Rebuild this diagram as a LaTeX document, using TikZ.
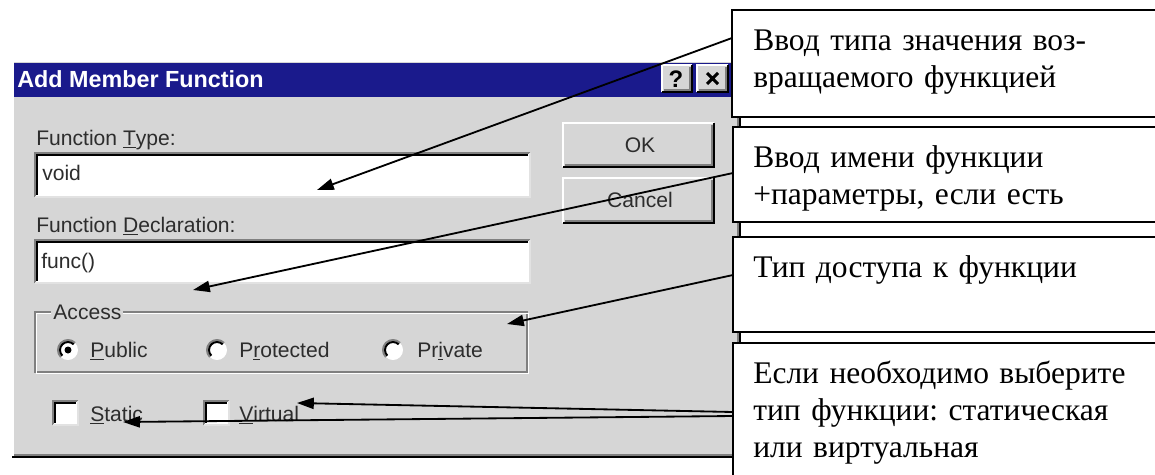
\documentclass[tikz,border=0pt]{standalone}
\usepackage{fontspec}
\setmainfont{Liberation Serif}
\newfontfamily\dlgfont{Liberation Sans}
\usepackage{tikz}
\usetikzlibrary{positioning, calc, arrows.meta}
\frenchspacing

\definecolor{dlgface}{RGB}{214,214,214}
\definecolor{dlgshade}{RGB}{128,128,128}
\definecolor{dlgtitle}{RGB}{26,26,140}
\definecolor{dlgtext}{RGB}{45,45,45}

% raised button: x1,y1 (top left), x2,y2 (bottom right)
\newcommand{\winraised}[4]{%
	\fill[dlgface] (#1,#2) rectangle (#3,#4);
	\draw[white, line width=1.4] (#1,#4) -- (#1,#2) -- (#3,#2);
	\draw[black, line width=1.4] (#1,#4) -- (#3,#4) -- (#3,#2);
	\draw[dlgshade, line width=1.4] (#1+2,#4-2) -- (#3-2,#4-2) -- (#3-2,#2+2);}
% sunken field
\newcommand{\winsunken}[4]{%
	\fill[white] (#1,#2) rectangle (#3,#4);
	\draw[dlgshade, line width=1.4] (#1,#4) -- (#1,#2) -- (#3,#2);
	\draw[black, line width=1.4] (#1+2,#4-2) -- (#1+2,#2+2) -- (#3-2,#2+2);
	\draw[dlgface!70!white, line width=1.4] (#1,#4) -- (#3,#4) -- (#3,#2);}
% radio button: centre x,y
\newcommand{\winradio}[2]{%
	\fill[white] (#1,#2) circle[radius=10];
	\draw[dlgshade, line width=1.4] (#1,#2) ++(135:10) arc[start angle=135, end angle=315, radius=10];
	\draw[black, line width=1.4] (#1,#2) ++(135:8) arc[start angle=135, end angle=315, radius=8];}

\begin{document}
\begin{tikzpicture}[x=0.025cm, y=-0.025cm,
	dlglabel/.style={font=\dlgfont\fontsize{15}{18}\selectfont, text=dlgtext, inner sep=0pt, anchor=base west},
	dlgbutton/.style={font=\dlgfont\fontsize{15}{18}\selectfont, text=dlgtext, inner sep=0pt},
	callout/.style={draw, line width=1.3pt, fill=white, anchor=north west, outer sep=0pt, minimum width=11cm},
	note/.style={font=\fontsize{22.4}{26.5}\selectfont, inner sep=0pt, anchor=base west, align=left, text width=10cm},
	pointer/.style={line width=1.3pt, -{Triangle[length=0.42cm, width=0.28cm]}}]
	\useasboundingbox (0,0) rectangle (1155,474);
	\clip (0,0) rectangle (1155,474);
	\fill[white] (0,0) rectangle (1155,474);

	% dialog frame and title bar
	\fill[dlgface] (12,60) rectangle (740,457);
	\draw[white, line width=1.4] (13,456) -- (13,61) -- (739,61);
	\draw[dlgshade, line width=1.4] (14,455) -- (738,455) -- (738,62);
	\draw[black, line width=1.4] (12,457) -- (740,457) -- (740,60);
	\fill[dlgtitle] (14,63) rectangle (735,97);
	\node[font=\dlgfont\bfseries\fontsize{16.6}{20}\selectfont, text=white, inner sep=0pt, anchor=base west] (title) at (17,87) {Add Member Function};
	\winraised{662}{65}{692}{92}
	\node[font=\dlgfont\bfseries\fontsize{17}{20}\selectfont, inner sep=0pt] (helpq) at (676,79) {?};
	\winraised{697}{65}{728}{92}
	\draw[black, line width=2.2] (707,73) -- (718,84) (718,73) -- (707,84);

	% fields
	\node[dlglabel] (typelbl) at (36,145) {Function \underline{T}ype:};
	\winsunken{35}{153}{530}{197}
	\node[dlglabel] (typeval) at (42,180) {void};
	\node[dlglabel] (decllbl) at (36,232) {Function \underline{D}eclaration:};
	\winsunken{35}{240}{530}{283}
	\node[dlglabel] (declval) at (41,268) {func()};

	% access group
	\draw[dlgshade, line width=1.2] (35,312) rectangle (527,372);
	\draw[white, line width=1.2] (36.5,313.5) rectangle (528.5,373.5);
	\node[dlglabel, fill=dlgface, inner xsep=1.5pt] (access) at (51,319) {Access};
	\winradio{68}{350}
	\fill[black] (68,350) circle[radius=3.5];
	\node[dlglabel] (public) at (90,357) {\underline{P}ublic};
	\winradio{217}{350}
	\node[dlglabel] (protect) at (239,357) {P\underline{r}otected};
	\winradio{393}{350}
	\node[dlglabel] (private) at (417,357) {Pr\underline{i}vate};

	% check boxes
	\winsunken{53}{401}{78}{425}
	\node[dlglabel] (static) at (90,421) {\underline{S}tatic};
	\winsunken{204}{401}{229}{425}
	\node[dlglabel] (virtual) at (239,421) {\underline{V}irtual};

	% buttons
	\winraised{563}{123}{714}{167}
	\node[dlgbutton] (ok) at (640,145) {OK};
	\winraised{563}{178}{714}{223}
	\node[dlgbutton] (cancel) at (640,200) {Cancel};

	% callouts
	\node[callout, minimum height=2.675cm] (c1) at (732,10) {};
	\node[note] at ($(c1.north west)+(21,40)$) {Ввод типа значения воз-\\вращаемого функцией};
	\node[callout, minimum height=2.375cm] (c2) at (733,127) {};
	\node[note] at ($(c2.north west)+(20,40)$) {Ввод имени функции\\+параметры, если есть};
	\node[callout, minimum height=2.375cm] (c3) at (733,237) {};
	\node[note] at ($(c3.north west)+(20,40)$) {Тип доступа к функции};
	\node[callout, minimum height=6cm] (c4) at (733,343) {};
	\node[note] at ($(c4.north west)+(20,40)$) {Если необходимо выберите\\тип функции: статическая\\или виртуальная};

	\coordinate (typetip) at (317,190);
	\coordinate (decltip) at (193,290);
	\coordinate (accesstip) at (507,324);
	\coordinate (virtualtip) at (297,403);
	\coordinate (statictip) at (123,422);
	\draw[pointer] ($(c1.north west)+(0,28)$) -- (typetip);
	\draw[pointer] ($(c2.north west)+(0,46)$) -- (decltip);
	\draw[pointer] ($(c3.north west)+(0,38)$) -- (accesstip);
	\draw[pointer] ($(c4.north west)+(0,69)$) -- (virtualtip);
	\draw[pointer] ($(c4.north west)+(0,73)$) -- (statictip);
\end{tikzpicture}
\end{document}
